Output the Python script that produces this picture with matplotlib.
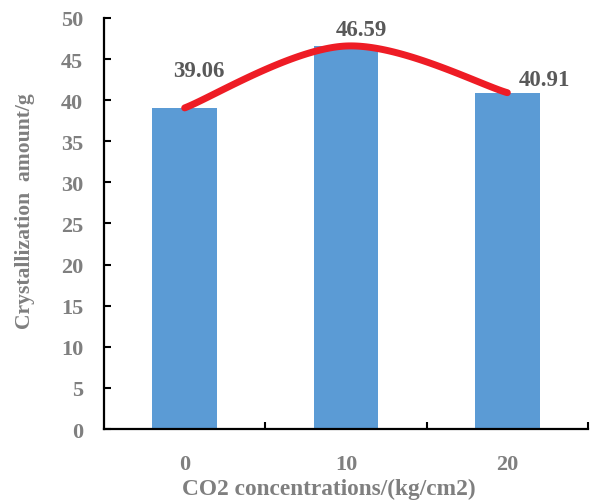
import numpy as np
import matplotlib
matplotlib.use("Agg")
import matplotlib.pyplot as plt

# crystallization amount for each CO2 concentration
categories = ["0", "10", "20"]
amounts = [39.06, 46.59, 40.91]

plt.rcParams["font.family"] = ["Liberation Serif", "DejaVu Serif"]
plt.rcParams["font.weight"] = "bold"

light = "#7f7f7f"
dark = "#595959"


def smooth_curve(xs, ys, n=60):
	# bezier pieces with catmull-rom style control points (excel "smoothed line")
	pts = np.column_stack([xs, ys]).astype(float)
	out = []
	for i in range(len(pts) - 1):
		p0 = pts[i - 1] if i > 0 else pts[i]
		p1 = pts[i]
		p2 = pts[i + 1]
		p3 = pts[i + 2] if i + 2 < len(pts) else pts[i + 1]
		c1 = p1 + (p2 - p0) / 6.0
		c2 = p2 - (p3 - p1) / 6.0
		t = np.linspace(0, 1, n)[:, None]
		seg = (1 - t)**3 * p1 + 3 * (1 - t)**2 * t * c1 + 3 * (1 - t) * t**2 * c2 + t**3 * p2
		out.append(seg)
	seg = np.vstack(out)
	return seg[:, 0], seg[:, 1]


fig = plt.figure(figsize=(5.97, 5.02), dpi=100)
ax = fig.add_axes([0.1742, 0.1434, 0.8108, 0.8188])

x = np.arange(len(categories))
ax.bar(x, amounts, width=0.4, color="#5b9bd5", zorder=2)

cx, cy = smooth_curve(x, amounts)
ax.plot(cx, cy, color="#ee1c25", lw=5, solid_capstyle="round", zorder=3)

offsets = [(14, 37), (15, 17), (37, 13)]
for xi, v, (dx, dy) in zip(x, amounts, offsets):
	ax.annotate("%.2f" % v, (xi, v), xytext=(dx, dy), textcoords="offset pixels",
		ha="center", va="center", fontsize=16.5, fontweight="bold", color=dark)

ax.set_xlim(-0.5, 2.5)
ax.set_ylim(0, 50)
ax.set_yticks(np.arange(0, 51, 5))
ax.set_xticks(x)
ax.set_xticklabels(categories)
ax.set_xticks([0.5, 1.5, 2.5], minor=True)

for s in ["top", "right"]:
	ax.spines[s].set_visible(False)
for s in ["left", "bottom"]:
	ax.spines[s].set_linewidth(1.6)
	ax.spines[s].set_color("black")

ax.tick_params(axis="y", direction="in", length=5, width=1.5, pad=15,
	labelsize=16, labelcolor=light)
ax.tick_params(axis="x", which="major", length=0, pad=18, labelsize=16, labelcolor=light)
ax.tick_params(axis="x", which="minor", direction="in", length=5, width=1.5)

ax.set_xlabel("CO2 concentrations/(kg/cm2)", fontsize=16.8, fontweight="bold", color=light)
ax.set_ylabel("Crystallization  amount/g", fontsize=15.6, fontweight="bold", color=light)
ax.xaxis.set_label_coords(0.464, -0.1436)
ax.yaxis.set_label_coords(-0.163, 0.532)
ax.xaxis.label.set_va("center")
ax.yaxis.label.set_va("center")

fig.savefig("out.png", dpi=100)
